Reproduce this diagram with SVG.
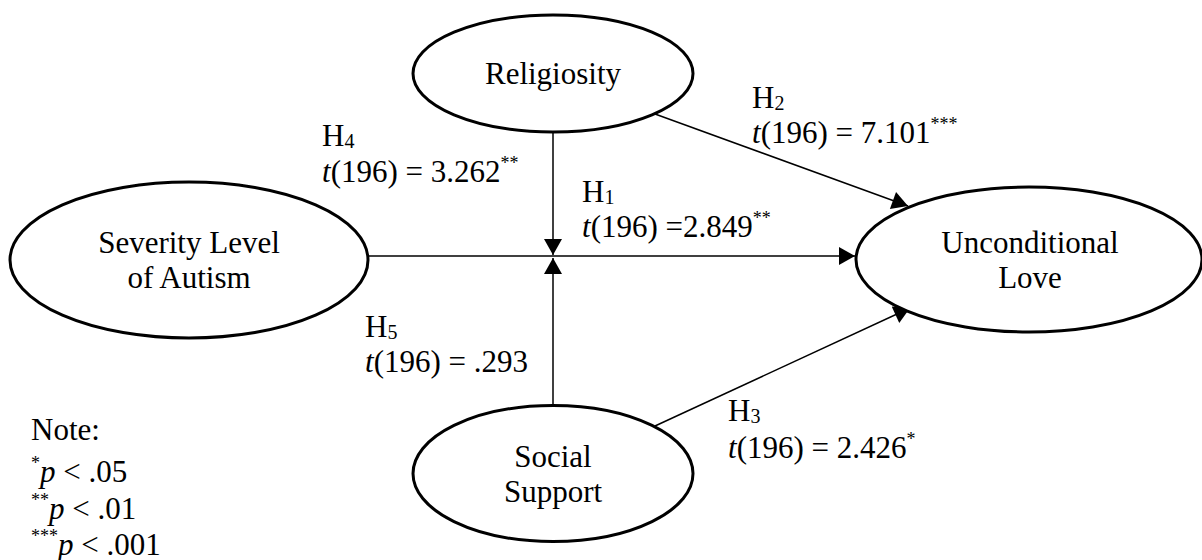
<svg xmlns="http://www.w3.org/2000/svg" width="1202" height="560" viewBox="0 0 1202 560" font-family="'Liberation Serif', 'Times New Roman', serif">
<style>
text{font-family:'Liberation Serif','Times New Roman',serif;font-size:31px;fill:#000}
.c{text-anchor:middle}
.i{font-style:italic}
.sub{font-size:20px}
.sup{font-size:18px}
ellipse{fill:#fff;stroke:#000;stroke-width:3}
.e line{stroke:#000;stroke-width:1.5}
</style>
<defs>
<marker id="ah" markerUnits="userSpaceOnUse" markerWidth="18" markerHeight="18" viewBox="0 0 16 18" refX="16" refY="9" orient="auto">
<path d="M0,0 L16,9 L0,18 Z" fill="#000"/>
</marker>
</defs>
<rect width="1202" height="560" fill="#fff"/>
<g id="edges" class="e">
<line x1="369" y1="256" x2="855" y2="256" marker-end="url(#ah)"/>
<line x1="553" y1="132" x2="553" y2="255" marker-end="url(#ah)"/>
<line x1="553" y1="405" x2="553" y2="258" marker-end="url(#ah)"/>
<line x1="655" y1="114" x2="908" y2="206" marker-end="url(#ah)"/>
<line x1="655" y1="426" x2="910" y2="308" marker-end="url(#ah)"/>
</g>
<g id="religiosity">
<ellipse cx="553" cy="73.5" rx="140" ry="58.5"/>
<text class="c" x="553" y="84">Religiosity</text>
</g>
<g id="severity">
<ellipse cx="189" cy="260" rx="179" ry="78"/>
<text class="c" x="189" y="253">Severity Level</text>
<text class="c" x="189" y="288">of Autism</text>
</g>
<g id="love">
<ellipse cx="1029" cy="259.5" rx="173" ry="72.5"/>
<text class="c" x="1030" y="253">Unconditional</text>
<text class="c" x="1030" y="288">Love</text>
</g>
<g id="support">
<ellipse cx="553" cy="473.5" rx="140" ry="68"/>
<text class="c" x="553" y="467">Social</text>
<text class="c" x="553" y="502">Support</text>
</g>
<g id="labels">
<text x="752" y="108">H<tspan class="sub" dy="2">2</tspan></text>
<text x="752" y="143"><tspan class="i">t</tspan>(196) = 7.101<tspan class="sup" dy="-13">***</tspan></text>
<text x="322" y="146">H<tspan class="sub" dy="2">4</tspan></text>
<text x="322" y="182"><tspan class="i">t</tspan>(196) = 3.262<tspan class="sup" dy="-13">**</tspan></text>
<text x="582" y="202">H<tspan class="sub" dy="2">1</tspan></text>
<text x="582" y="237"><tspan class="i">t</tspan>(196) =2.849<tspan class="sup" dy="-13">**</tspan></text>
<text x="365" y="337">H<tspan class="sub" dy="2">5</tspan></text>
<text x="365" y="372"><tspan class="i">t</tspan>(196) = .293</text>
<text x="728" y="421">H<tspan class="sub" dy="2">3</tspan></text>
<text x="728" y="458"><tspan class="i">t</tspan>(196) = 2.426<tspan class="sup" dy="-13">*</tspan></text>
</g>
<g id="note">
<text x="31" y="440">Note:</text>
<text x="31" y="482"><tspan class="sup" dy="-13">*</tspan><tspan class="i" dy="13">p</tspan> &lt; .05</text>
<text x="31" y="519"><tspan class="sup" dy="-13">**</tspan><tspan class="i" dy="13">p</tspan> &lt; .01</text>
<text x="31" y="555"><tspan class="sup" dy="-13">***</tspan><tspan class="i" dy="13">p</tspan> &lt; .001</text>
</g>
</svg>
